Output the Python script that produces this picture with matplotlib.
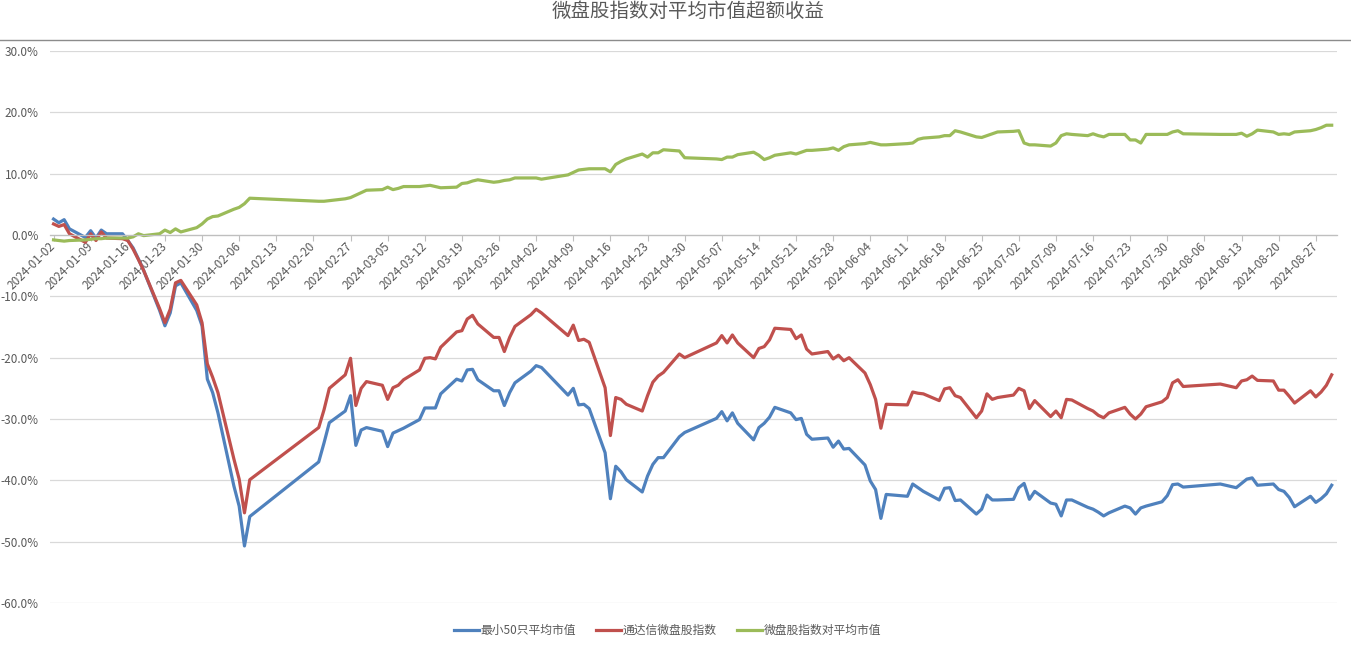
import matplotlib
matplotlib.use("Agg")
import matplotlib.pyplot as plt
import matplotlib.dates as mdates
from matplotlib.lines import Line2D
from matplotlib.ticker import FuncFormatter, MultipleLocator
import pandas as pd

plt.rcParams['font.family'] = ['Noto Sans CJK SC', 'DejaVu Sans']

title = "微盘股指数对平均市值超额收益"
names = ["最小50只平均市值", "通达信微盘股指数", "微盘股指数对平均市值"]
colors = ["#4F81BD", "#C0504D", "#9BBB59"]

# trading days (2024) for the two index series
days = [
    "01-02", "01-03", "01-04", "01-05", "01-08", "01-09", "01-10", "01-11", "01-12",
    "01-15", "01-16", "01-17", "01-18", "01-19", "01-22", "01-23", "01-24", "01-25",
    "01-26", "01-29", "01-30", "01-31", "02-01", "02-02", "02-05", "02-06", "02-07",
    "02-08", "02-21", "02-22", "02-23", "02-26", "02-27", "02-28", "02-29", "03-01",
    "03-04", "03-05", "03-06", "03-07", "03-08", "03-11", "03-12", "03-13", "03-14",
    "03-15", "03-18", "03-19", "03-20", "03-21", "03-22", "03-25", "03-26", "03-27",
    "03-28", "03-29", "04-01", "04-02", "04-03", "04-08", "04-09", "04-10", "04-11",
    "04-12", "04-15", "04-16", "04-17", "04-18", "04-19", "04-22", "04-23", "04-24",
    "04-25", "04-26", "04-29", "04-30", "05-06", "05-07", "05-08", "05-09", "05-10",
    "05-13", "05-14", "05-15", "05-16", "05-17", "05-20", "05-21", "05-22", "05-23",
    "05-24", "05-27", "05-28", "05-29", "05-30", "05-31", "06-03", "06-04", "06-05",
    "06-06", "06-07", "06-11", "06-12", "06-13", "06-14", "06-17", "06-18", "06-19",
    "06-20", "06-21", "06-24", "06-25", "06-26", "06-27", "06-28", "07-01", "07-02",
    "07-03", "07-04", "07-05", "07-08", "07-09", "07-10", "07-11", "07-12", "07-15",
    "07-16", "07-17", "07-18", "07-19", "07-22", "07-23", "07-24", "07-25", "07-26",
    "07-29", "07-30", "07-31", "08-01", "08-02", "08-09", "08-12", "08-13", "08-14",
    "08-15", "08-16", "08-19", "08-20", "08-21", "08-22", "08-23", "08-26", "08-27",
    "08-28", "08-29", "08-30",
]

small50 = [
    2.6, 2.0, 2.5, 1.0, -0.4, 0.7, -0.5, 0.8, 0.2,
    0.2, -0.9, -2.1, -3.9, -5.8, -12.3, -14.8, -12.7, -8.3,
    -7.8, -12.3, -14.8, -23.5, -25.7, -29.0, -40.9, -44.2, -50.7,
    -45.9, -37.0, -33.9, -30.6, -28.7, -26.2, -34.3, -31.8, -31.4,
    -32.0, -34.5, -32.3, -31.9, -31.5, -30.1, -28.2, -28.2, -28.2,
    -25.9, -23.5, -23.8, -22.0, -21.9, -23.6, -25.4, -25.4, -27.8,
    -25.7, -24.1, -22.2, -21.3, -21.6, -26.1, -25.0, -27.7, -27.6,
    -28.3, -35.5, -43.0, -37.7, -38.6, -39.9, -41.9, -39.3, -37.4,
    -36.3, -36.3, -32.9, -32.2, -29.9, -28.8, -30.3, -29.0, -30.7,
    -33.4, -31.4, -30.7, -29.7, -28.1, -29.0, -30.1, -29.9, -32.5,
    -33.3, -33.1, -34.6, -33.6, -34.9, -34.8, -37.5, -40.1, -41.5,
    -46.2, -42.3, -42.6, -40.6, -41.2, -41.8, -43.2, -41.3, -41.2,
    -43.3, -43.2, -45.5, -44.7, -42.4, -43.2, -43.2, -43.1, -41.2,
    -40.5, -43.1, -41.8, -43.7, -43.9, -45.8, -43.2, -43.2, -44.4,
    -44.7, -45.2, -45.8, -45.3, -44.2, -44.5, -45.5, -44.5, -44.2,
    -43.5, -42.5, -40.7, -40.6, -41.1, -40.6, -41.2, -40.5, -39.8,
    -39.6, -40.8, -40.6, -41.5, -41.8, -42.8, -44.3, -42.6, -43.6,
    -43.0, -42.2, -40.8,
]

tdx_micro = [
    1.8, 1.4, 1.7, 0.2, -1.2, 0.2, -0.9, 0.5, -0.5,
    -0.6, -0.9, -2.3, -4.0, -5.8, -12.0, -14.3, -12.1, -7.8,
    -7.4, -11.4, -14.3, -21.0, -23.2, -25.7, -36.5, -39.8, -45.3,
    -39.9, -31.4, -28.5, -25.0, -22.8, -20.1, -27.8, -25.0, -23.9,
    -24.5, -26.8, -24.9, -24.5, -23.6, -22.0, -20.1, -20.0, -20.2,
    -18.3, -15.8, -15.6, -13.7, -13.1, -14.5, -16.7, -16.7, -19.0,
    -16.7, -14.9, -13.0, -12.1, -12.7, -16.4, -14.7, -17.2, -17.0,
    -17.5, -24.9, -32.7, -26.5, -26.8, -27.6, -28.7, -26.2, -24.0,
    -23.0, -22.4, -19.4, -20.0, -17.6, -16.4, -17.6, -16.3, -17.6,
    -20.0, -18.5, -18.2, -17.1, -15.2, -15.4, -16.9, -16.3, -18.6,
    -19.4, -19.0, -20.2, -19.6, -20.5, -20.0, -22.5, -24.4, -26.8,
    -31.5, -27.6, -27.7, -25.6, -25.8, -25.9, -27.0, -25.1, -24.9,
    -26.2, -26.5, -29.8, -28.7, -25.9, -26.8, -26.5, -26.1, -25.0,
    -25.4, -28.3, -27.0, -29.6, -28.7, -29.8, -26.8, -26.9, -28.3,
    -28.7, -29.4, -29.8, -29.0, -28.1, -29.2, -30.0, -29.2, -28.0,
    -27.2, -26.5, -24.1, -23.6, -24.7, -24.3, -24.9, -23.8, -23.6,
    -23.0, -23.7, -23.8, -25.3, -25.3, -26.3, -27.4, -25.4, -26.4,
    -25.6, -24.5, -22.8,
]

excess_days = [
    "01-02", "01-03", "01-04", "01-05", "01-08", "01-09", "01-10", "01-11", "01-12",
    "01-15", "01-16", "01-17", "01-18", "01-19", "01-22", "01-23", "01-24", "01-25",
    "01-26", "01-29", "01-30", "01-31", "02-01", "02-02", "02-05", "02-06", "02-07",
    "02-08", "02-21", "02-22", "02-23", "02-26", "02-27", "02-28", "02-29", "03-01",
    "03-04", "03-05", "03-06", "03-07", "03-08", "03-11", "03-12", "03-13", "03-14",
    "03-15", "03-18", "03-19", "03-20", "03-21", "03-22", "03-25", "03-26", "03-27",
    "03-28", "03-29", "04-01", "04-02", "04-03", "04-08", "04-09", "04-10", "04-11",
    "04-12", "04-15", "04-16", "04-17", "04-18", "04-19", "04-22", "04-23", "04-24",
    "04-25", "04-26", "04-29", "04-30", "05-06", "05-07", "05-08", "05-09", "05-10",
    "05-13", "05-14", "05-15", "05-16", "05-17", "05-20", "05-21", "05-22", "05-23",
    "05-24", "05-27", "05-28", "05-29", "05-30", "05-31", "06-03", "06-04", "06-05",
    "06-06", "06-07", "06-11", "06-12", "06-13", "06-14", "06-17", "06-18", "06-19",
    "06-20", "06-21", "06-24", "06-25", "06-26", "06-27", "06-28", "07-01", "07-02",
    "07-03", "07-04", "07-05", "07-08", "07-09", "07-10", "07-11", "07-12", "07-15",
    "07-16", "07-17", "07-18", "07-19", "07-22", "07-23", "07-24", "07-25", "07-26",
    "07-29", "07-30", "07-31", "08-01", "08-02", "08-09", "08-12", "08-13", "08-14",
    "08-15", "08-16", "08-19", "08-20", "08-21", "08-22", "08-23", "08-26", "08-27",
    "08-28", "08-29", "08-30",
]

excess = [
    -0.8, -0.9, -1.0, -0.9, -0.8, -0.7, -0.6, -0.6, -0.5,
    -0.5, -0.5, -0.3, 0.2, -0.1, 0.2, 0.8, 0.4, 1.0,
    0.5, 1.2, 1.8, 2.6, 3.0, 3.1, 4.2, 4.5, 5.1,
    6.0, 5.5, 5.5, 5.6, 5.9, 6.1, 6.5, 6.9, 7.3,
    7.4, 7.8, 7.4, 7.6, 7.9, 7.9, 8.0, 8.1, 7.9,
    7.7, 7.8, 8.4, 8.5, 8.8, 9.0, 8.6, 8.7, 8.9,
    9.0, 9.3, 9.3, 9.3, 9.1, 9.8, 10.2, 10.6, 10.7,
    10.8, 10.8, 10.3, 11.5, 12.0, 12.4, 13.2, 12.7, 13.4,
    13.4, 13.9, 13.7, 12.6, 12.4, 12.3, 12.7, 12.7, 13.1,
    13.5, 13.0, 12.3, 12.6, 13.0, 13.4, 13.2, 13.5, 13.8,
    13.8, 14.0, 14.2, 13.8, 14.4, 14.7, 14.9, 15.1, 14.9,
    14.7, 14.7, 14.9, 15.0, 15.6, 15.8, 16.0, 16.2, 16.2,
    17.0, 16.8, 16.0, 15.9, 16.2, 16.5, 16.8, 16.9, 17.0,
    15.0, 14.7, 14.7, 14.5, 15.0, 16.2, 16.5, 16.4, 16.2,
    16.5, 16.2, 16.0, 16.4, 16.4, 15.5, 15.5, 15.0, 16.4,
    16.4, 16.4, 16.8, 17.0, 16.5, 16.4, 16.4, 16.6, 16.1,
    16.5, 17.1, 16.8, 16.4, 16.5, 16.4, 16.8, 17.0, 17.2,
    17.5, 17.9, 17.9,
]

week_ticks = pd.date_range("2024-01-02", "2024-08-27", freq="7D")

text_gray = "#595959"
grid_gray = "#d9d9d9"

fig = plt.figure(figsize=(13.51, 6.45), dpi=100)
ax = fig.add_axes([50 / 1351, 42 / 645, 1287 / 1351, 552 / 645])

d1 = pd.to_datetime(["2024-" + s for s in days])
d2 = pd.to_datetime(["2024-" + s for s in excess_days])
ax.plot(d1, small50, color=colors[0], lw=2.3, label=names[0], solid_joinstyle="round")
ax.plot(d1, tdx_micro, color=colors[1], lw=2.3, label=names[1], solid_joinstyle="round")
ax.plot(d2, excess, color=colors[2], lw=2.3, label=names[2], solid_joinstyle="round")

ax.set_ylim(-60, 30)
ax.set_xlim(pd.Timestamp("2024-01-01 08:00"), pd.Timestamp("2024-08-31"))
ax.yaxis.set_major_locator(MultipleLocator(10))
ax.yaxis.set_major_formatter(FuncFormatter(lambda v, p: f"{v:.1f}%"))
ax.grid(axis="y", color=grid_gray, lw=0.9)
ax.set_axisbelow(True)

for side in ["top", "right", "left"]:
    ax.spines[side].set_visible(False)
ax.spines["bottom"].set_position(("data", 0))
ax.spines["bottom"].set_color("#bfbfbf")
ax.spines["bottom"].set_linewidth(0.9)

ax.set_xticks(week_ticks)
ax.xaxis.set_major_formatter(mdates.DateFormatter("%Y-%m-%d"))
ax.tick_params(axis="x", direction="out", length=4, width=0.8, color="#bfbfbf",
               labelsize=8.5, labelcolor=text_gray, pad=3)
ax.tick_params(axis="y", length=0, labelsize=8.5, labelcolor=text_gray, pad=8)
for lab in ax.get_xticklabels():
    lab.set_rotation(45)
    lab.set_ha("right")
    lab.set_va("center")
    lab.set_rotation_mode("anchor")

fig.text(0.509, 0.983, title, ha="center", va="center", fontsize=14, color=text_gray)
fig.add_artist(Line2D([0, 1], [1 - 40 / 645, 1 - 40 / 645], transform=fig.transFigure,
                      color="#8c8c8c", lw=1.0))

fig.legend(loc="center", bbox_to_anchor=(0.494, 0.022), ncol=3, frameon=False,
           fontsize=8.5, labelcolor=text_gray, handlelength=2.1, handletextpad=0.15,
           columnspacing=1.7)

fig.savefig("out.png", dpi=100)
